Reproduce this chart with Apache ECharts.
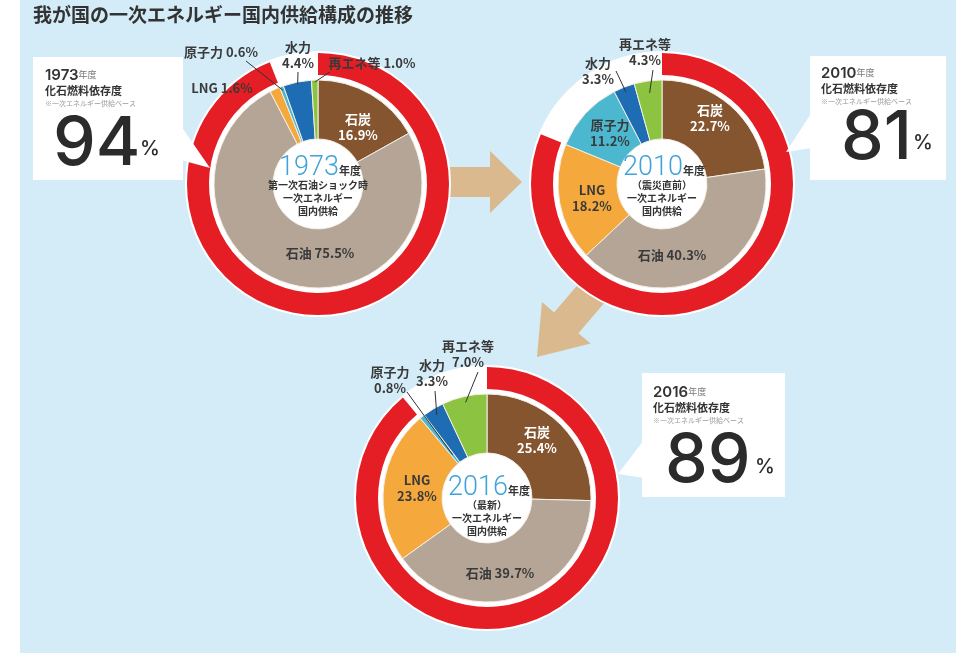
<!DOCTYPE html>
<html>
<head>
<meta charset="utf-8">
<title>我が国の一次エネルギー国内供給構成の推移</title>
<script src="https://cdn.jsdelivr.net/npm/echarts@6.0.0/dist/echarts.min.js"></script>
<style>
  html, body { margin: 0; padding: 0; background: #fff; }
  #main { width: 956px; height: 653px; }
</style>
</head>
<body>
<div id="main"></div>
<script>
  // data
  const categories = ['石炭', '石油', 'LNG', '原子力', '水力', '再エネ等'];
  const years = ['1973', '2010', '2016'];
  const share1973 = [16.9, 75.5, 1.6, 0.6, 4.4, 1.0];
  const share2010 = [22.7, 40.3, 18.2, 11.2, 3.3, 4.3];
  const share2016 = [25.4, 39.7, 23.8, 0.8, 3.3, 7.0];
  const fossilDependence = [94, 81, 89];
  const centerNotes = ['第一次石油ショック時', '（震災直前）', '（最新）'];
  const fossilCount = 3; // 石炭・石油・LNG

  const sliceColors = ['#85552f', '#b4a597', '#f5a93c', '#4bb8cf', '#1d6cb4', '#8cc441'];
  const fossilRed = '#e51d24';
  const jp = '"Noto Sans CJK JP", sans-serif';
  const num = 'Inter, "Noto Sans CJK JP", sans-serif';

  // layout of each pie: center, label offsets from center,
  // leader line [end dx, end dy, radius where it touches the slice] (null = no line)
  const charts = [
    {
      share: share1973, cx: 318, cy: 184, textDy: 0,
      sep: ['\n', ' ', ' ', ' ', '\n', ' '],
      offset: [[40, -57], [2, 69], [-96, -96], [-97, -132], [-20, -129], [54, -121]],
      leader: [null, null, null, [-72, -123, 100], [-20, -112, 102], [12, -112, 102]],
    },
    {
      share: share2010, cx: 662, cy: 184, textDy: 0,
      sep: ['\n', ' ', '\n', '\n', '\n', '\n'],
      offset: [[48, -66], [10, 71], [-70, 14], [-52, -51], [-64, -113], [-17, -132]],
      leader: [null, null, null, null, [-46, -113, 99], [-9, -114, 92]],
    },
    {
      share: share2016, cx: 487, cy: 498, textDy: 6,
      sep: ['\n', ' ', '\n', '\n', '\n', '\n'],
      offset: [[50, -58], [13, 75], [-70, -10], [-97, -118], [-55, -125], [-19, -144]],
      leader: [null, null, null, [-80, -106, 55], [-52, -107, 97], [-9, -126, 98]],
    },
  ];

  const series = [];
  const graphic = [];

  charts.forEach((c, k) => {
    const center = [c.cx, c.cy];
    const fossil = c.share.slice(0, fossilCount).reduce((a, b) => a + b, 0);
    // white disc behind
    series.push({
      type: 'pie', silent: true, center: center, radius: [0, 133],
      label: { show: false }, labelLine: { show: false },
      itemStyle: { color: '#fff' },
      data: [{ value: 1, name: 'bg' }],
    });
    // fossil fuel ring
    series.push({
      type: 'pie', silent: true, center: center, radius: [109, 131],
      startAngle: 90, label: { show: false }, labelLine: { show: false },
      data: [
        { value: fossil, name: '化石燃料', itemStyle: { color: fossilRed } },
        { value: 100 - fossil, name: 'その他', itemStyle: { color: 'transparent' } },
      ],
    });
    // inner composition
    series.push({
      type: 'pie', silent: true, center: center, radius: [45, 104],
      startAngle: 90, avoidLabelOverlap: false,
      itemStyle: { borderColor: '#f4efe6', borderWidth: 1 },
      label: {
        show: true, position: 'inside', fontFamily: jp, fontSize: 13, fontWeight: 'bold',
        lineHeight: 16, color: '#3a3a3a',
        formatter: (p) => p.name + c.sep[p.dataIndex] + p.value.toFixed(1) + '%',
      },
      labelLine: { show: false },
      labelLayout: (p) => {
        const o = c.offset[p.dataIndex];
        return { x: c.cx + o[0], y: c.cy + o[1], align: 'center', verticalAlign: 'middle' };
      },
      data: categories.map((name, i) => {
        const item = { name: name, value: c.share[i], itemStyle: { color: sliceColors[i] } };
        if (i === 0) item.label = { color: '#fff' };
        return item;
      }),
    });

    // leader lines for the small slices, starting at the slice's middle angle
    const total = c.share.reduce((a, b) => a + b, 0);
    let cum = 0;
    c.share.forEach((v, i) => {
      const mid = (cum + v / 2) / total * Math.PI * 2;
      cum += v;
      const l = c.leader[i];
      if (!l) return;
      const start = [c.cx + l[2] * Math.sin(mid), c.cy - l[2] * Math.cos(mid)];
      graphic.push({
        type: 'polyline', z: 50, silent: true,
        shape: { points: [start, [c.cx + l[0], c.cy + l[1]]] },
        style: { stroke: '#333', lineWidth: 1, fill: null },
      });
    });
  });

  // arrow polygon (tip, direction, sizes)
  function arrowPoints(tip, dir, headLen, headHalf, shaftHalf, totalLen) {
    const len = Math.hypot(dir[0], dir[1]);
    const d = [dir[0] / len, dir[1] / len];
    const n = [-d[1], d[0]];
    const b = [tip[0] - headLen * d[0], tip[1] - headLen * d[1]];
    const s = [tip[0] - totalLen * d[0], tip[1] - totalLen * d[1]];
    const p = (o, m) => [o[0] + m * n[0], o[1] + m * n[1]];
    return [tip, p(b, headHalf), p(b, shaftHalf), p(s, shaftHalf), p(s, -shaftHalf), p(b, -shaftHalf), p(b, -headHalf)];
  }

  // callout boxes
  const boxes = [
    { rect: [33, 57, 150, 123], pointer: [[181, 126], [210, 168], [181, 160]], tx: 45, ty: 75, nx: 53, ny: 145, px: 140, py: 149 },
    { rect: [810, 56, 136, 124], pointer: [[812, 112], [786, 152], [812, 148]], tx: 821, ty: 73, nx: 841, ny: 139, px: 913, py: 143 },
    { rect: [642, 373, 143, 124], pointer: [[644, 440], [618, 474], [644, 478]], tx: 653, ty: 392, nx: 665, ny: 462, px: 755, py: 467 },
  ];

  graphic.push(
    { type: 'rect', z: -1, shape: { x: 20, y: 0, width: 936, height: 653 }, style: { fill: '#d3ecf8' } },
    {
      type: 'text', z: 5, style: {
        x: 33, y: 15, text: '我が国の一次エネルギー国内供給構成の推移', fontFamily: jp,
        fontSize: 19, fontWeight: 'bold', fill: '#333', verticalAlign: 'middle',
      },
    },
    { type: 'polygon', z: 0, shape: { points: arrowPoints([522, 182], [1, 0], 32, 31, 15, 90) }, style: { fill: '#dab98e' } },
    { type: 'polygon', z: 0, shape: { points: arrowPoints([537, 357], [-0.65, 0.76], 45, 32, 16, 130) }, style: { fill: '#dab98e' } }
  );

  boxes.forEach((b, k) => {
    graphic.push(
      { type: 'rect', z: 10, shape: { x: b.rect[0], y: b.rect[1], width: b.rect[2], height: b.rect[3] }, style: { fill: '#fff' } },
      { type: 'polygon', z: 10, shape: { points: b.pointer }, style: { fill: '#fff' } },
      {
        type: 'text', z: 11, style: {
          x: b.tx, y: b.ty, verticalAlign: 'middle',
          text: '{y|' + years[k] + '}{n|年度}',
          rich: {
            y: { fontFamily: num, fontSize: 15, fontWeight: 600, fill: '#333' },
            n: { fontFamily: jp, fontSize: 9, fill: '#777' },
          },
        },
      },
      { type: 'text', z: 11, style: { x: b.tx, y: b.ty + 16, verticalAlign: 'middle', text: '化石燃料依存度', fontFamily: jp, fontSize: 11, fontWeight: 'bold', fill: '#333' } },
      { type: 'text', z: 11, style: { x: b.tx, y: b.ty + 28, verticalAlign: 'middle', text: '※一次エネルギー供給ベース', fontFamily: jp, fontSize: 7, fill: '#999' } },
      { type: 'text', z: 11, style: { x: b.nx, y: b.ny, verticalAlign: 'middle', text: String(fossilDependence[k]), fontFamily: num, fontSize: 68, fontWeight: 500, fill: '#2b2b2b' } },
      { type: 'text', z: 11, style: { x: b.px, y: b.py, verticalAlign: 'middle', text: '%', fontFamily: num, fontSize: 20, fontWeight: 500, fill: '#2b2b2b' } }
    );
  });

  // texts in the middle of each pie
  charts.forEach((c, k) => {
    graphic.push(
      {
        type: 'text', z: 12, style: {
          x: c.cx + 2, y: c.cy - 16 + c.textDy, align: 'center', verticalAlign: 'middle',
          text: '{y|' + years[k] + '}{n|年度}',
          rich: {
            y: { fontFamily: 'Roboto, sans-serif', fontSize: 27, fontWeight: 300, fill: '#3ea3da' },
            n: { fontFamily: jp, fontSize: 11, fontWeight: 'bold', fill: '#333', padding: [6, 0, 0, 0] },
          },
        },
      },
      {
        type: 'text', z: 12, style: {
          x: c.cx, y: c.cy + 14 + c.textDy, align: 'center', verticalAlign: 'middle',
          text: centerNotes[k] + '\n一次エネルギー\n国内供給',
          fontFamily: jp, fontSize: 10, fontWeight: 'bold', lineHeight: 13, fill: '#333',
        },
      }
    );
  });

  const myChart = echarts.init(document.getElementById('main'));
  myChart.setOption({
    animation: false,
    backgroundColor: '#fff',
    graphic: graphic,
    series: series,
  });
</script>
</body>
</html>
